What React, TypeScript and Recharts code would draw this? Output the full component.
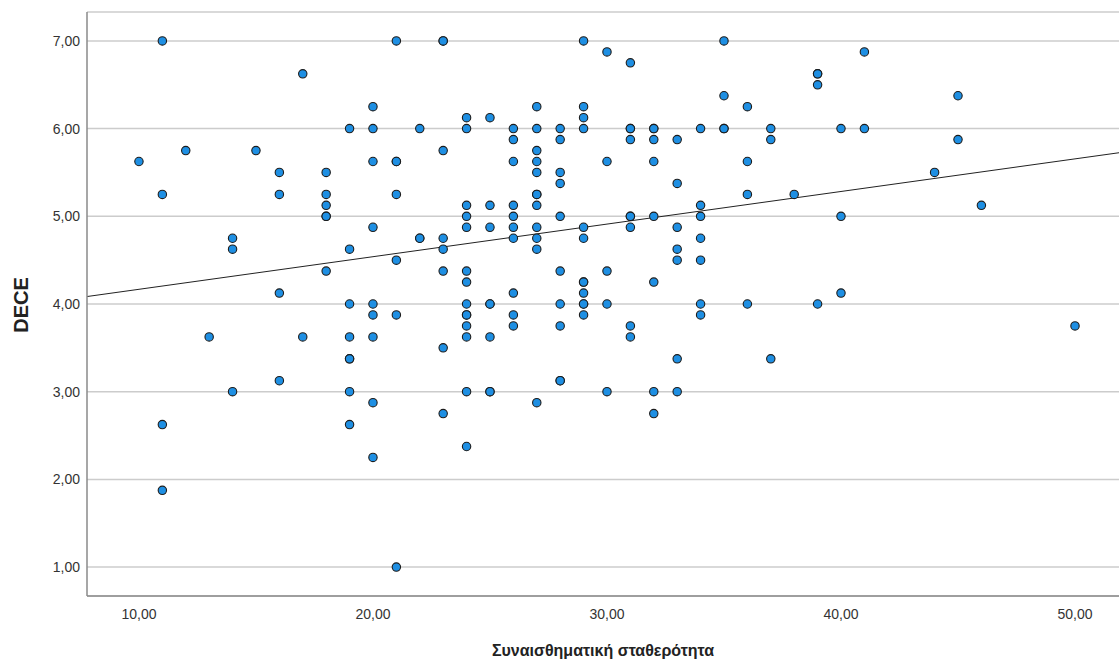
import React from 'react';
import { ScatterChart, Scatter, XAxis, YAxis, CartesianGrid, ReferenceLine, Label } from 'recharts';

// x scores (Συναισθηματική σταθερότητα)
const stabilityScores = [10, 11, 12, 13, 14, 15, 16, 17, 18, 19, 20, 21, 22, 23, 24, 25, 26, 27, 28, 29, 30, 31, 32, 33, 34, 35, 36, 37, 38, 39, 40, 41, 44, 45, 46, 50];

// DECE values for each score above (same order); repeated values = overlapping dots
const deceByScore = [
  [5.625],
  [7.0, 5.25, 2.625, 1.875],
  [5.75],
  [3.625],
  [4.75, 4.625, 3.0],
  [5.75],
  [5.5, 5.25, 4.125, 3.125],
  [6.625, 3.625],
  [5.5, 5.25, 5.125, 5.0, 5.0, 4.375],
  [6.0, 4.625, 4.0, 3.625, 3.375, 3.375, 3.0, 2.625],
  [6.25, 6.0, 5.625, 4.875, 4.0, 3.875, 3.625, 2.875, 2.25],
  [7.0, 5.625, 5.625, 5.25, 4.5, 3.875, 1.0],
  [6.0, 4.75, 4.75],
  [7.0, 7.0, 5.75, 4.75, 4.625, 4.375, 3.5, 2.75],
  [6.125, 6.0, 5.125, 5.0, 4.875, 4.375, 4.25, 4.0, 3.875, 3.875, 3.75, 3.625, 3.0, 2.375],
  [6.125, 5.125, 4.875, 4.0, 4.0, 3.625, 3.0, 3.0],
  [6.0, 5.875, 5.625, 5.125, 5.0, 4.875, 4.75, 4.125, 3.875, 3.75],
  [6.25, 6.0, 5.75, 5.625, 5.5, 5.25, 5.25, 5.125, 4.875, 4.75, 4.625, 2.875],
  [6.0, 5.875, 5.5, 5.375, 5.0, 4.375, 4.0, 3.75, 3.125, 3.125],
  [7.0, 6.25, 6.125, 6.0, 4.875, 4.75, 4.25, 4.25, 4.125, 4.0, 4.0, 3.875],
  [6.875, 5.625, 4.375, 4.0, 3.0],
  [6.75, 6.0, 6.0, 5.875, 5.0, 5.0, 4.875, 3.75, 3.625],
  [6.0, 6.0, 5.875, 5.625, 5.0, 4.25, 3.0, 2.75],
  [5.875, 5.375, 4.875, 4.625, 4.5, 3.375, 3.0],
  [6.0, 5.125, 5.0, 4.75, 4.5, 4.0, 3.875],
  [7.0, 6.375, 6.0, 6.0],
  [6.25, 5.625, 5.25, 4.0],
  [6.0, 5.875, 3.375],
  [5.25],
  [6.625, 6.625, 6.5, 4.0],
  [6.0, 5.0, 4.125],
  [6.875, 6.0],
  [5.5],
  [6.375, 5.875],
  [5.125],
  [3.75],
];

const xTicks = [10, 20, 30, 40, 50];
const yTicks = [1, 2, 3, 4, 5, 6, 7];

// fit line end points at the plot edges
const fitLine = [
  { x: 7.78, y: 4.085 },
  { x: 51.88, y: 5.725 },
];

const points = stabilityScores.flatMap((score, i) =>
  deceByScore[i].map((dece) => ({ x: score, y: dece }))
);

const fmt = (v: number) => v.toFixed(2).replace('.', ',');

const Dot = (props: any) => {
  const { cx, cy } = props;
  return <circle cx={cx} cy={cy} r={4.2} fill="#1e8fe3" stroke="#1c1c1c" strokeWidth={1.1} />;
};

const FONT = '"Liberation Sans", Arial, sans-serif';

export default function App() {
  return (
    <div style={{ position: 'absolute', left: 0, top: 0, background: '#fff' }}>
      <ScatterChart
        width={1119}
        height={666}
        margin={{ top: 12, right: 0, bottom: 0, left: 0 }}
        style={{ fontFamily: FONT }}
      >
        <CartesianGrid vertical={false} stroke="#cccccc" strokeWidth={1.5} />
        <XAxis
          type="number"
          dataKey="x"
          domain={[7.78, 51.88]}
          ticks={xTicks}
          tickFormatter={fmt}
          height={70}
          tickLine={false}
          tickSize={0}
          tickMargin={13}
          axisLine={{ stroke: '#8a8a8a', strokeWidth: 1.5 }}
          tick={{ fill: '#333', fontSize: 14, fontFamily: FONT }}
          allowDataOverflow
        >
          <Label
            content={(p: any) => {
              const vb = p.viewBox;
              return (
                <text x={603} y={656} textAnchor="middle" fontSize={16} fontWeight="bold" fill="#222" fontFamily={FONT}>
                  Συναισθηματική σταθερότητα
                </text>
              );
            }}
          />
        </XAxis>
        <YAxis
          type="number"
          dataKey="y"
          domain={[0.67, 7.33]}
          ticks={yTicks}
          tickFormatter={fmt}
          width={87}
          tickLine={false}
          tickSize={0}
          tickMargin={7}
          axisLine={{ stroke: '#8a8a8a', strokeWidth: 1.5 }}
          tick={{ fill: '#333', fontSize: 14, fontFamily: FONT }}
          allowDataOverflow
        >
          <Label
            content={(p: any) => {
              const vb = p.viewBox;
              const cy = vb.y + vb.height / 2 + 1;
              return (
                <text x={28} y={cy} transform={`rotate(-90 28 ${cy})`} textAnchor="middle" fontSize={20} fontWeight="bold" fill="#222" fontFamily={FONT}>
                  DECE
                </text>
              );
            }}
          />
        </YAxis>
        <ReferenceLine segment={fitLine} stroke="#222" strokeWidth={1} ifOverflow="visible" />
        <Scatter data={points} shape={<Dot />} isAnimationActive={false} />
      </ScatterChart>
    </div>
  );
}
